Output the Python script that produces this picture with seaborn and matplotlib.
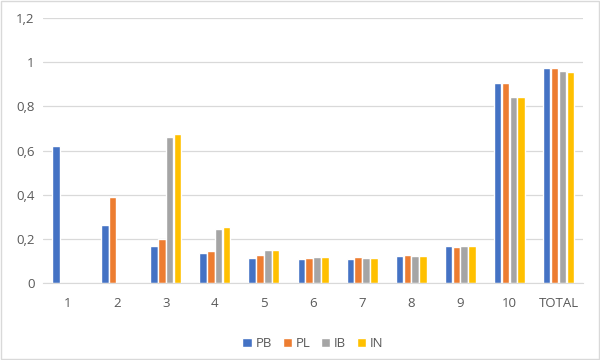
import pandas as pd
import numpy as np
import seaborn as sns
import matplotlib
matplotlib.use('Agg')
import matplotlib.pyplot as plt
from matplotlib.ticker import FuncFormatter
from matplotlib.patches import Rectangle

# Data
groups = ['1', '2', '3', '4', '5', '6', '7', '8', '9', '10', 'TOTAL']
series = ['PB', 'PL', 'IB', 'IN']
pb = [0.621, 0.264, 0.169, 0.137, 0.115, 0.110, 0.110, 0.124, 0.169, 0.906, 0.975]
pl = [np.nan, 0.390, 0.200, 0.146, 0.128, 0.115, 0.119, 0.128, 0.164, 0.906, 0.975]
ib = [np.nan, np.nan, 0.662, 0.246, 0.151, 0.119, 0.115, 0.124, 0.169, 0.843, 0.961]
in_ = [np.nan, np.nan, 0.676, 0.255, 0.151, 0.119, 0.115, 0.124, 0.169, 0.843, 0.956]
colors = ['#4472C4', '#ED7D31', '#A5A5A5', '#FFC000']

rows = []
for name, vals in zip(series, [pb, pl, ib, in_]):
    for g, v in zip(groups, vals):
        rows.append({'group': g, 'serie': name, 'value': v})
df = pd.DataFrame(rows)

sns.set_style('white')
plt.rcParams['font.family'] = ['Open Sans', 'DejaVu Sans']


def comma_fmt(v, pos):
    if abs(v - round(v)) < 1e-9:
        return str(int(round(v)))
    return f'{v:.1f}'.replace('.', ',')


fig = plt.figure(figsize=(6, 3.6), dpi=100)
ax = fig.add_axes([0.0717, 0.2139, 0.9, 0.736])

sns.barplot(data=df, x='group', y='value', hue='serie', order=groups,
            hue_order=series, palette=colors, width=0.64, gap=0.05,
            saturation=1, ax=ax, legend=True)

ax.set_ylim(0, 1.2)
ax.set_yticks(np.arange(0, 1.21, 0.2))
ax.yaxis.set_major_formatter(FuncFormatter(comma_fmt))
ax.grid(axis='y', color='#D9D9D9', linewidth=0.9)
ax.set_axisbelow(True)
for s in ['top', 'right', 'left']:
    ax.spines[s].set_visible(False)
ax.spines['bottom'].set_color('#D9D9D9')
ax.tick_params(axis='both', length=0, labelsize=9.5, labelcolor='#595959', pad=6)
ax.tick_params(axis='x', pad=10)
ax.set_xlabel('')
ax.set_ylabel('')
ax.set_xlim(-0.5, len(groups) - 0.5)

ax.legend(loc='upper center', bbox_to_anchor=(0.5, -0.16), ncol=4, frameon=False,
          fontsize=9.5, labelcolor='#595959', handlelength=0.7, handleheight=0.7,
          handletextpad=0.3, columnspacing=0.8)

fig.patches.append(Rectangle((0.002, 0.003), 0.996, 0.994, transform=fig.transFigure,
                             fill=False, edgecolor='#D9D9D9', linewidth=1))

fig.savefig('out.png', dpi=100)
